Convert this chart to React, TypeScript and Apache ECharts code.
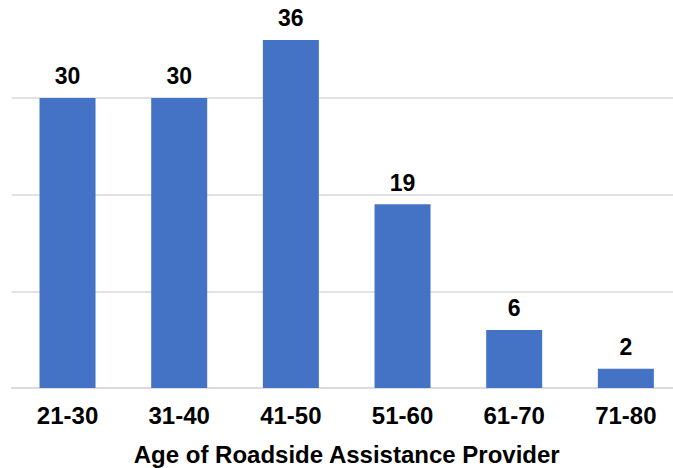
import React, { useEffect, useRef } from "react";
import * as echarts from "echarts";

const categories = ["21-30", "31-40", "41-50", "51-60", "61-70", "71-80"];
const values = [30, 30, 36, 19, 6, 2];
const axisTitle = "Age of Roadside Assistance Provider";

export default function App() {
  const ref = useRef<HTMLDivElement>(null);
  useEffect(() => {
    if (!ref.current) return;
    const chart = echarts.init(ref.current, undefined, { renderer: "svg" });
    const font = "'Liberation Sans', Arial, sans-serif";
    chart.setOption({
      animation: false,
      grid: {
        left: 11.7,
        top: 1.3,
        width: 670,
        height: 386.7,
        containLabel: false,
        outerBoundsMode: "none",
      },
      xAxis: {
        type: "category",
        data: categories,
        axisLine: { show: true, lineStyle: { color: "#d9d9d9", width: 1.5 } },
        axisTick: { show: false },
        axisLabel: { color: "#000", fontSize: 24, fontWeight: "bold", fontFamily: font, margin: 15 },
        name: axisTitle,
        nameLocation: "middle",
        nameGap: 54,
        nameTextStyle: { color: "#000", fontSize: 24, fontWeight: "bold", fontFamily: font },
      },
      yAxis: {
        type: "value",
        min: 0,
        max: 40,
        interval: 10,
        axisLabel: { show: false },
        axisLine: { show: false },
        axisTick: { show: false },
        splitLine: { show: true, showMaxLine: false, lineStyle: { color: "#d9d9d9", width: 1.5 } },
      },
      series: [
        {
          type: "bar",
          data: values,
          barWidth: 56,
          itemStyle: { color: "#4472C4" },
          label: {
            show: true,
            position: "top",
            distance: 10,
            color: "#000",
            fontSize: 23,
            fontWeight: "bold",
            fontFamily: font,
          },
        },
      ],
    });
    return () => chart.dispose();
  }, []);
  return <div ref={ref} style={{ width: 673, height: 468, position: "absolute", left: 0, top: 0 }} />;
}
